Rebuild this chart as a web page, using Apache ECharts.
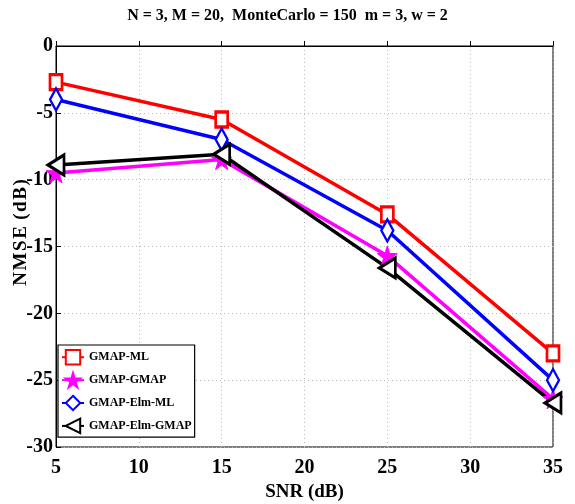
<!DOCTYPE html>
<html><head><meta charset="utf-8">
<script src="https://cdn.jsdelivr.net/npm/echarts@6/dist/echarts.min.js"></script>
<style>html,body{margin:0;padding:0;background:#fff}#c{width:575px;height:504px}</style>
</head><body><div id="c"></div>
<script>
const snr = [5, 15, 25, 35];
const gmapML = [-2.7, -5.5, -12.6, -23.0];
const gmapGMAP = [-9.5, -8.5, -15.7, -26.4];
const gmapElmML = [-4.0, -7.0, -13.8, -25.0];
const gmapElmGMAP = [-8.9, -8.1, -16.6, -26.7];
const xTicks = [5, 10, 15, 20, 25, 30, 35];
const yTicks = [0, -5, -10, -15, -20, -25, -30];

const FONT = '"Liberation Serif", serif';
const starPath = 'path://M50,0 L61,35 L98,35 L68,57 L79,91 L50,70 L21,91 L32,57 L2,35 L39,35 Z';
function pts(ys){ return snr.map((x,i)=>[x, ys[i]]); }
const mk = (name, data, color, symbol, size, extra) => Object.assign({
  name, type: 'line', data: pts(data), symbol, symbolSize: size,
  lineStyle: { color, width: 3.5 }, itemStyle: { color, borderColor: color, borderWidth: 2.5 },
  showAllSymbol: true, z: 3, animation: false
}, extra || {});

const chart = echarts.init(document.getElementById('c'), null, {renderer: 'canvas'});
chart.setOption({
  animation: false,
  backgroundColor: '#fff',
  title: { text: 'N = 3, M = 20,  MonteCarlo = 150  m = 3, w = 2', left: 'center', top: 3,
    textStyle: { fontFamily: FONT, fontWeight: 'bold', fontSize: 16, color: '#000' } },
  grid: { left: 56, right: 22, top: 46, bottom: 57, show: true, borderColor: '#000', borderWidth: 1,
    containLabel: false, outerBoundsMode: 'none' },
  legend: {
    left: 58, top: 345, orient: 'vertical', itemWidth: 22, itemHeight: 18, itemGap: 6.5,
    backgroundColor: '#fff', borderColor: '#000', borderWidth: 1.2, padding: [4, 3, 3, 3],
    textStyle: { fontFamily: FONT, fontWeight: 'bold', fontSize: 12, color: '#000' },
    data: ['GMAP-ML', 'GMAP-GMAP', 'GMAP-Elm-ML', 'GMAP-Elm-GMAP']
  },
  xAxis: {
    type: 'value', min: 5, max: 35, interval: 5,
    name: 'SNR (dB)', nameLocation: 'middle', nameGap: 36, nameMoveOverlap: false,
    nameTextStyle: { fontFamily: FONT, fontWeight: 'bold', fontSize: 19, color: '#000' },
    axisLine: { lineStyle: { color: '#000' } },
    axisTick: { inside: true, length: 5, lineStyle: { color: '#000' } },
    axisLabel: { fontFamily: FONT, fontWeight: 'bold', fontSize: 20, color: '#000', margin: 11,
      formatter: v => xTicks.includes(v) ? String(v) : '' },
    splitLine: { show: true, lineStyle: { color: '#bbb', type: [1, 3], width: 1 } }
  },
  yAxis: {
    type: 'value', min: -30, max: 0, interval: 5,
    name: 'N\u200aM\u200aS\u200aE\u200a (\u200ad\u200aB\u200a)', nameLocation: 'middle', nameGap: 25, nameMoveOverlap: false,
    nameTextStyle: { fontFamily: FONT, fontWeight: 'bold', fontSize: 19, color: '#000', padding: [0, 0, 0, 28] },
    axisLine: { lineStyle: { color: '#000' } },
    axisTick: { inside: true, length: 5, lineStyle: { color: '#000' } },
    axisLabel: { fontFamily: FONT, fontWeight: 'bold', fontSize: 20, color: '#000', margin: 3,
      formatter: v => yTicks.includes(v) ? String(v) : '' },
    splitLine: { show: true, lineStyle: { color: '#bbb', type: [1, 3], width: 1 } }
  },
  series: [
    mk('GMAP-ML', gmapML, '#ff0000', 'rect', [12, 15], { itemStyle: { color: '#fff', borderColor: '#ff0000', borderWidth: 3 } }),
    mk('GMAP-GMAP', gmapGMAP, '#ff00ff', starPath, [20, 20], { itemStyle: { color: '#ff00ff', borderColor: '#ff00ff', borderWidth: 1 } }),
    mk('GMAP-Elm-ML', gmapElmML, '#0000ff', 'diamond', [12, 22], { itemStyle: { color: '#fff', borderColor: '#0000ff', borderWidth: 2.5 } }),
    mk('GMAP-Elm-GMAP', gmapElmGMAP, '#000000', 'triangle', [20, 16], { symbolRotate: 90, itemStyle: { color: '#fff', borderColor: '#000', borderWidth: 3 } })
  ]
});
</script></body></html>
